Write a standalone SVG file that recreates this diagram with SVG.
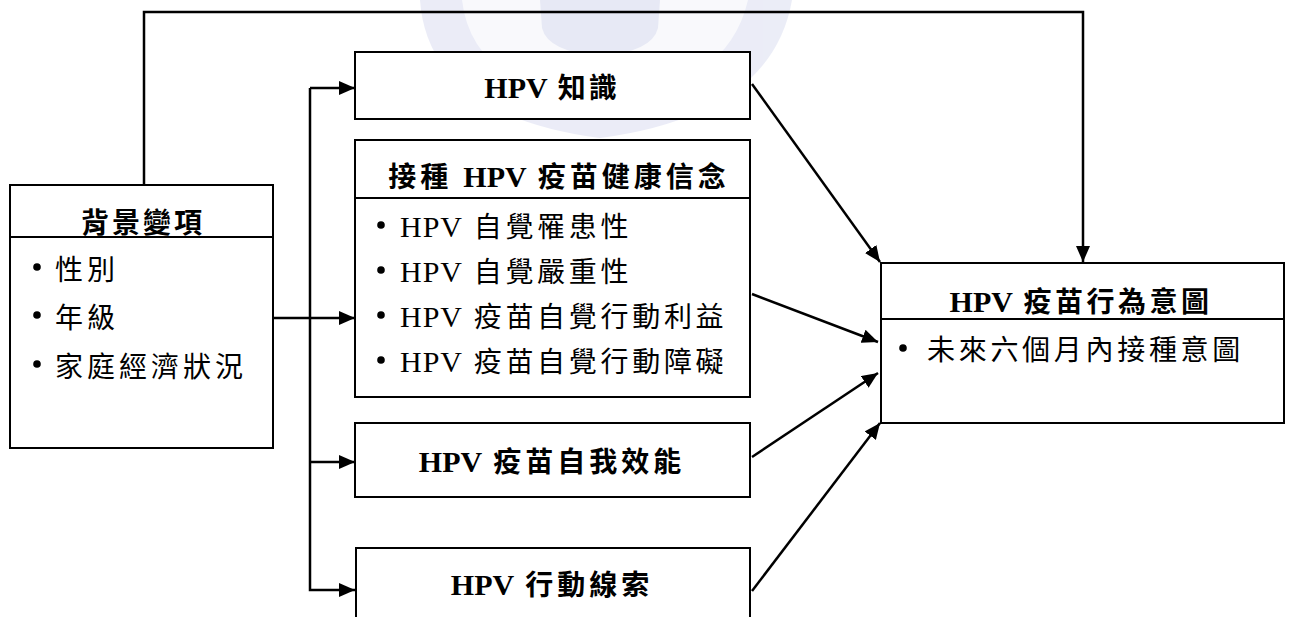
<svg xmlns="http://www.w3.org/2000/svg" width="1290" height="617" viewBox="0 0 1290 617">
<style>
.box{fill:#fff;stroke:#000;stroke-width:2}
.div{stroke:#000;stroke-width:2}
.t{font-family:"Liberation Serif","Noto Sans CJK TC",serif;font-size:28px;fill:#000}
.b{font-weight:bold}
.c{text-anchor:middle}
.h{font-size:30px}
.line{fill:none;stroke:#000;stroke-width:2.5}
.dot{fill:#000}
</style>
<defs>
<marker id="ah" markerUnits="userSpaceOnUse" markerWidth="17" markerHeight="14" refX="16" refY="7" orient="auto">
<path d="M0,0 L16,7 L0,14 Z" fill="#000"/>
</marker>
</defs>
<rect width="1290" height="617" fill="#fff"/>
<g id="watermark" opacity="0.45">
<path d="M420,0 Q428,115 600,138 Q772,115 792,0 Z" fill="#d3d6ee"/>
<path d="M462,0 Q472,88 600,105 Q728,88 748,0 Z" fill="#f2f3fa"/>
<path d="M540,0 L542,28 Q548,52 600,56 Q652,52 658,28 L660,0 Z" fill="#ccd0ea"/>
</g>
<g id="connectors">
<path class="line" d="M144,185 V12 H1083 V262" marker-end="url(#ah)"/>
<path class="line" d="M310,88 H355" marker-end="url(#ah)"/>
<path class="line" d="M310,88 V590 H355" marker-end="url(#ah)"/>
<path class="line" d="M310,462 H355" marker-end="url(#ah)"/>
<path class="line" d="M273,318 H355" marker-end="url(#ah)"/>
<path class="line" d="M752,84 L880,262" marker-end="url(#ah)"/>
<path class="line" d="M752,294 L878,342" marker-end="url(#ah)"/>
<path class="line" d="M752,457 L878,373" marker-end="url(#ah)"/>
<path class="line" d="M752,591 L880,423" marker-end="url(#ah)"/>
</g>
<g id="background">
<rect class="box" x="10" y="185" width="263" height="263"/>
<line class="div" x1="10" y1="237" x2="273" y2="237"/>
<text class="t b c" x="143" y="233" letter-spacing="3">背景變項</text>
<circle class="dot" cx="37" cy="267" r="3.8"/>
<circle class="dot" cx="37" cy="315" r="3.8"/>
<circle class="dot" cx="37" cy="364" r="3.8"/>
<text class="t" x="55" y="280" letter-spacing="4">性別</text>
<text class="t" x="55" y="328" letter-spacing="4">年級</text>
<text class="t" x="55" y="377" letter-spacing="4">家庭經濟狀況</text>
</g>
<g id="knowledge">
<rect class="box" x="355" y="52" width="395" height="67"/>
<text class="t b c" x="552" y="98"><tspan class="h">HPV</tspan><tspan letter-spacing="3"> 知識</tspan></text>
</g>
<g id="belief">
<rect class="box" x="355" y="140" width="395" height="257"/>
<line class="div" x1="355" y1="198" x2="750" y2="198"/>
<text class="t b c" x="559" y="187"><tspan letter-spacing="4">接種 </tspan><tspan class="h">HPV</tspan><tspan letter-spacing="4"> 疫苗健康信念</tspan></text>
<circle class="dot" cx="381" cy="225" r="3.8"/>
<circle class="dot" cx="381" cy="270" r="3.8"/>
<circle class="dot" cx="381" cy="315" r="3.8"/>
<circle class="dot" cx="381" cy="360" r="3.8"/>
<text class="t" x="400" y="237"><tspan class="h" letter-spacing="1">HPV</tspan><tspan letter-spacing="3.7"> 自覺罹患性</tspan></text>
<text class="t" x="400" y="282"><tspan class="h" letter-spacing="1">HPV</tspan><tspan letter-spacing="3.7"> 自覺嚴重性</tspan></text>
<text class="t" x="400" y="327"><tspan class="h" letter-spacing="1">HPV</tspan><tspan letter-spacing="3.7"> 疫苗自覺行動利益</tspan></text>
<text class="t" x="400" y="372"><tspan class="h" letter-spacing="1">HPV</tspan><tspan letter-spacing="3.7"> 疫苗自覺行動障礙</tspan></text>
</g>
<g id="efficacy">
<rect class="box" x="355" y="423" width="395" height="74"/>
<text class="t b c" x="552" y="472"><tspan class="h">HPV</tspan><tspan letter-spacing="4"> 疫苗自我效能</tspan></text>
</g>
<g id="cues">
<rect class="box" x="356" y="548" width="394" height="100"/>
<text class="t b c" x="552" y="595"><tspan class="h">HPV</tspan><tspan letter-spacing="4"> 行動線索</tspan></text>
</g>
<g id="intention">
<rect class="box" x="881" y="263" width="403" height="160"/>
<line class="div" x1="881" y1="319" x2="1284" y2="319"/>
<text class="t b c" x="1081" y="312"><tspan class="h">HPV</tspan><tspan letter-spacing="3.5"> 疫苗行為意圖</tspan></text>
<circle class="dot" cx="903" cy="348" r="3.8"/>
<text class="t" x="927" y="360" letter-spacing="3.7">未來六個月內接種意圖</text>
</g>
</svg>
